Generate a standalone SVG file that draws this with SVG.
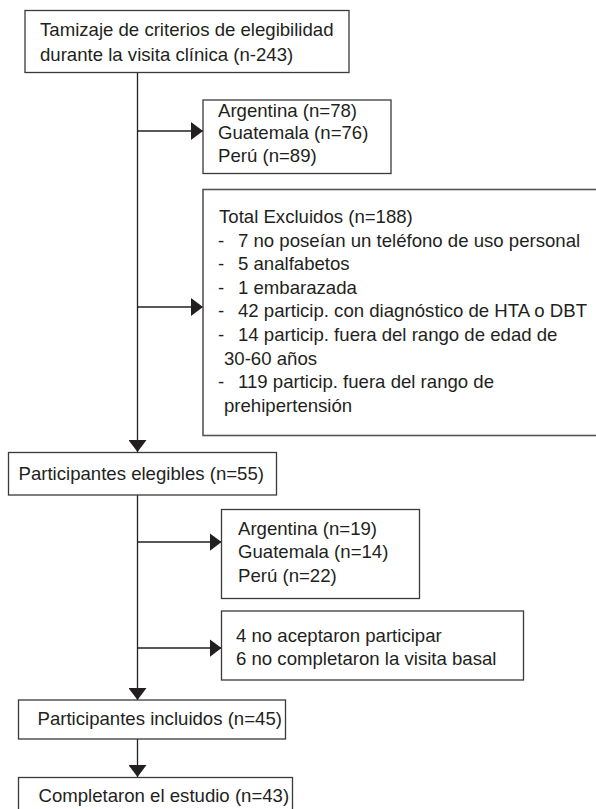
<svg xmlns="http://www.w3.org/2000/svg" width="596" height="809" viewBox="0 0 596 809">
<style>
.box{fill:#fff;stroke:#3a3a3a;stroke-width:1.3}
.t{font-family:"Liberation Sans",Arial,sans-serif;font-size:18.6px;fill:#231f20}
.c{fill:none;stroke:#231f20;stroke-width:1.3}
</style>
<defs>
<marker id="ah" markerUnits="userSpaceOnUse" markerWidth="12" markerHeight="18" refX="12" refY="9" orient="auto">
<path d="M0,0 L12,9 L0,18 z" fill="#231f20"/>
</marker>
</defs>
<rect width="596" height="809" fill="#fff"/>
<g id="connectors">
<line class="c" x1="137.5" y1="72" x2="137.5" y2="452" marker-end="url(#ah)"/>
<line class="c" x1="137.5" y1="131" x2="203" y2="131" marker-end="url(#ah)"/>
<line class="c" x1="137.5" y1="307" x2="203" y2="307" marker-end="url(#ah)"/>
<line class="c" x1="137.5" y1="495" x2="137.5" y2="700" marker-end="url(#ah)"/>
<line class="c" x1="137.5" y1="542" x2="221.5" y2="542" marker-end="url(#ah)"/>
<line class="c" x1="137.5" y1="648" x2="221.5" y2="648" marker-end="url(#ah)"/>
<line class="c" x1="137.5" y1="739" x2="137.5" y2="777" marker-end="url(#ah)"/>
</g>
<g id="n1">
<rect class="box" x="25" y="10.5" width="324" height="62"/>
<text class="t" x="40" y="36">Tamizaje de criterios de elegibilidad</text>
<text class="t" x="40" y="61">durante la visita clínica (n-243)</text>
</g>
<g id="n2">
<rect class="box" x="203" y="100" width="188" height="73.5"/>
<text class="t" x="218" y="116.5">Argentina (n=78)</text>
<text class="t" x="218" y="139">Guatemala (n=76)</text>
<text class="t" x="218" y="161.5">Perú (n=89)</text>
</g>
<g id="n3">
<rect class="box" x="203" y="189.5" width="400" height="246" style="stroke:#555;stroke-width:1.6"/>
<text class="t" x="219" y="223">Total Excluidos (n=188)</text>
<text class="t" x="218" y="246.6">- <tspan x="238">7 no poseían un teléfono de uso personal</tspan></text>
<text class="t" x="218" y="270.2">- <tspan x="238">5 analfabetos</tspan></text>
<text class="t" x="218" y="293.8">- <tspan x="238">1 embarazada</tspan></text>
<text class="t" x="218" y="317.4">- <tspan x="238">42 particip. con diagnóstico de HTA o DBT</tspan></text>
<text class="t" x="218" y="341">- <tspan x="238">14 particip. fuera del rango de edad de</tspan></text>
<text class="t" x="224" y="364.6">30-60 años</text>
<text class="t" x="218" y="388.2">- <tspan x="238">119 particip. fuera del rango de</tspan></text>
<text class="t" x="224" y="411.8">prehipertensión</text>
</g>
<g id="n4">
<rect class="box" x="8.5" y="452.5" width="268" height="42.5"/>
<text class="t" x="18.5" y="480">Participantes elegibles (n=55)</text>
</g>
<g id="n5">
<rect class="box" x="221.5" y="509.5" width="198" height="89"/>
<text class="t" x="238" y="535">Argentina (n=19)</text>
<text class="t" x="238" y="558.3">Guatemala (n=14)</text>
<text class="t" x="238" y="581.7">Perú (n=22)</text>
</g>
<g id="n6">
<rect class="box" x="221.5" y="611" width="302" height="69"/>
<text class="t" x="236" y="641.7">4 no aceptaron participar</text>
<text class="t" x="236" y="665">6 no completaron la visita basal</text>
</g>
<g id="n7">
<rect class="box" x="18.5" y="700" width="267" height="39"/>
<text class="t" x="37.5" y="725">Participantes incluidos (n=45)</text>
</g>
<g id="n8">
<rect class="box" x="18.5" y="777.5" width="274" height="40"/>
<text class="t" x="38.5" y="801.5">Completaron el estudio (n=43)</text>
</g>
</svg>
